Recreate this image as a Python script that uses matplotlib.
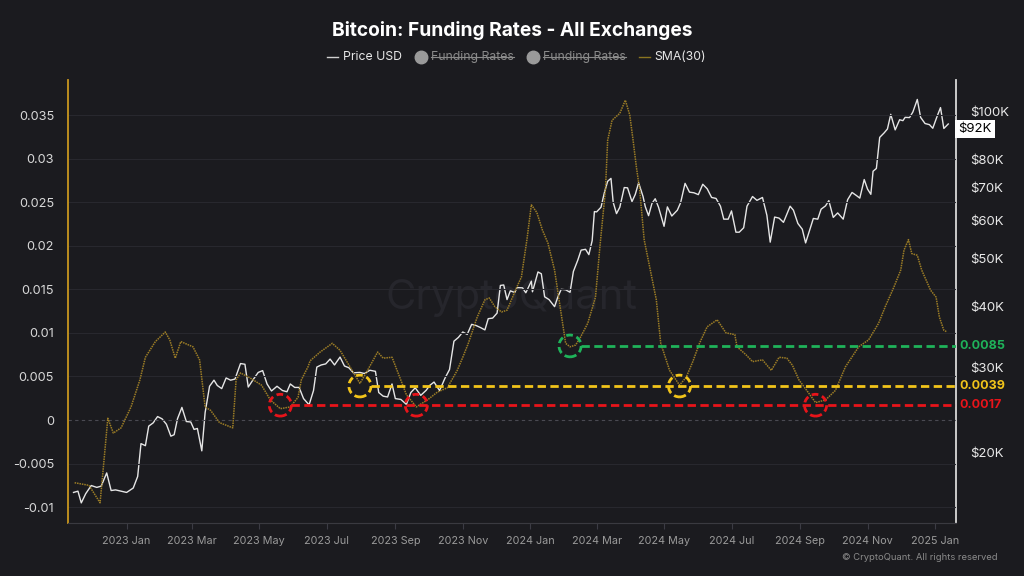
import matplotlib
matplotlib.use("Agg")
import matplotlib.pyplot as plt
import matplotlib.dates as mdates
from matplotlib.lines import Line2D
from matplotlib.patches import Ellipse
from matplotlib.ticker import FixedLocator, NullLocator, FuncFormatter
import pandas as pd

BG = "#1b1b1f"
GOLD = "#c8961e"
SMA_COLOR = "#9c7d26"
LEVEL_COLORS = {"green": "#1fb35a", "yellow": "#f2c41a", "red": "#e8141a"}

PRICE_DATES = [
    "2022-11-14", "2022-11-18", "2022-11-21", "2022-11-25", "2022-11-30", "2022-12-05", "2022-12-09",
    "2022-12-14", "2022-12-18", "2022-12-22", "2022-12-27", "2023-01-01", "2023-01-07", "2023-01-11",
    "2023-01-14", "2023-01-18", "2023-01-21", "2023-01-25", "2023-01-29", "2023-02-02", "2023-02-06",
    "2023-02-10", "2023-02-13", "2023-02-16", "2023-02-20", "2023-02-24", "2023-02-28", "2023-03-03",
    "2023-03-06", "2023-03-10", "2023-03-13", "2023-03-17", "2023-03-21", "2023-03-24", "2023-03-28",
    "2023-04-01", "2023-04-05", "2023-04-09", "2023-04-14", "2023-04-18", "2023-04-21", "2023-04-26",
    "2023-04-30", "2023-05-04", "2023-05-08", "2023-05-12", "2023-05-17", "2023-05-22", "2023-05-26",
    "2023-05-29", "2023-06-02", "2023-06-06", "2023-06-10", "2023-06-15", "2023-06-19", "2023-06-22",
    "2023-06-26", "2023-06-30", "2023-07-04", "2023-07-08", "2023-07-13", "2023-07-17", "2023-07-21",
    "2023-07-25", "2023-07-31", "2023-08-04", "2023-08-09", "2023-08-14", "2023-08-17", "2023-08-21",
    "2023-08-25", "2023-08-29", "2023-09-01", "2023-09-06", "2023-09-11", "2023-09-15", "2023-09-19",
    "2023-09-24", "2023-09-29", "2023-10-02", "2023-10-06", "2023-10-11", "2023-10-16", "2023-10-20",
    "2023-10-24", "2023-10-28", "2023-11-01", "2023-11-05", "2023-11-09", "2023-11-13", "2023-11-17",
    "2023-11-21", "2023-11-24", "2023-11-28", "2023-12-02", "2023-12-05", "2023-12-08", "2023-12-11",
    "2023-12-14", "2023-12-18", "2023-12-20", "2023-12-25", "2023-12-28", "2024-01-02", "2024-01-03",
    "2024-01-08", "2024-01-11", "2024-01-14", "2024-01-18", "2024-01-23", "2024-01-26", "2024-01-29",
    "2024-02-02", "2024-02-06", "2024-02-09", "2024-02-13", "2024-02-16", "2024-02-20", "2024-02-23",
    "2024-02-26", "2024-02-28", "2024-03-01", "2024-03-05", "2024-03-08", "2024-03-11", "2024-03-14",
    "2024-03-16", "2024-03-19", "2024-03-22", "2024-03-26", "2024-03-29", "2024-04-02", "2024-04-05",
    "2024-04-08", "2024-04-12", "2024-04-14", "2024-04-17", "2024-04-20", "2024-04-23", "2024-04-26",
    "2024-05-01", "2024-05-04", "2024-05-08", "2024-05-13", "2024-05-16", "2024-05-20", "2024-05-24",
    "2024-05-28", "2024-06-01", "2024-06-05", "2024-06-09", "2024-06-13", "2024-06-17", "2024-06-21",
    "2024-06-24", "2024-06-28", "2024-07-01", "2024-07-05", "2024-07-08", "2024-07-12", "2024-07-15",
    "2024-07-20", "2024-07-24", "2024-07-29", "2024-08-02", "2024-08-05", "2024-08-09", "2024-08-13",
    "2024-08-17", "2024-08-23", "2024-08-26", "2024-08-30", "2024-09-03", "2024-09-06", "2024-09-10",
    "2024-09-13", "2024-09-17", "2024-09-20", "2024-09-24", "2024-09-27", "2024-10-01", "2024-10-05",
    "2024-10-10", "2024-10-14", "2024-10-18", "2024-10-22", "2024-10-25", "2024-10-29", "2024-11-01",
    "2024-11-04", "2024-11-06", "2024-11-09", "2024-11-12", "2024-11-16", "2024-11-19", "2024-11-22",
    "2024-11-26", "2024-11-30", "2024-12-03", "2024-12-05", "2024-12-09", "2024-12-12", "2024-12-16",
    "2024-12-19", "2024-12-23", "2024-12-27", "2024-12-30", "2025-01-03", "2025-01-06", "2025-01-09",
    "2025-01-13",
]
PRICE_USD = [
    16600, 16700, 15800, 16500, 17150, 17000, 17100,
    18200, 16750, 16800, 16700, 16600, 16950, 17900,
    20900, 20700, 22700, 23050, 23750, 23500, 22900,
    21650, 21800, 23500, 24800, 23200, 23150, 22350,
    22450, 20200, 24200, 27400, 28200, 27500, 27100,
    28500, 28200, 28350, 30500, 30400, 27300, 28400,
    29250, 29500, 27700, 26800, 27400, 26850, 26700,
    27700, 27250, 27250, 25850, 25100, 26850, 30000,
    30300, 30450, 31150, 30300, 31450, 30150, 29900,
    29200, 29250, 29100, 29550, 29400, 26600, 26150,
    26050, 27700, 25850, 25750, 25150, 26600, 27200,
    26250, 26900, 27500, 27950, 26850, 28500, 29650,
    33900, 34500, 35400, 35000, 36700, 36500, 36150,
    35750, 37700, 37800, 38700, 44100, 44200, 41250,
    43000, 42650, 43650, 43600, 42600, 45000, 42800,
    47000, 46600, 41800, 41250, 39900, 41800, 43300,
    43200, 42700, 47100, 49700, 52100, 52300, 51000,
    54500, 62500, 62400, 63800, 68300, 72100, 73100,
    65300, 61900, 63800, 70000, 69900, 65500, 67800,
    71600, 67100, 64000, 61300, 64900, 66400, 63800,
    58300, 63900, 61200, 62900, 65200, 71400, 68500,
    68300, 67700, 71100, 69600, 66800, 66500, 64100,
    60300, 60300, 62700, 56700, 56700, 57900, 64100,
    67100, 65900, 66800, 61400, 54100, 60900, 60600,
    59400, 64100, 62900, 59100, 57500, 53900, 57600,
    60500, 60300, 63200, 64200, 65800, 60800, 62100,
    60300, 66100, 68400, 67400, 66600, 72700, 69500,
    67800, 75600, 76600, 88700, 90600, 92300, 98900,
    91900, 96400, 96000, 97500, 97400, 100000, 106100,
    97500, 94700, 94200, 92600, 98100, 102100, 92500,
    94500,
]

SMA_DATES = [
    "2022-11-15", "2022-11-28", "2022-12-08", "2022-12-11", "2022-12-15", "2022-12-20", "2022-12-27",
    "2023-01-05", "2023-01-13", "2023-01-18", "2023-01-27", "2023-02-05", "2023-02-09", "2023-02-14",
    "2023-02-19", "2023-03-02", "2023-03-08", "2023-03-13", "2023-03-18", "2023-03-26", "2023-04-07",
    "2023-04-10", "2023-04-14", "2023-04-23", "2023-05-03", "2023-05-11", "2023-05-20", "2023-05-29",
    "2023-06-05", "2023-06-08", "2023-06-14", "2023-06-16", "2023-06-25", "2023-07-06", "2023-07-13",
    "2023-07-22", "2023-07-31", "2023-08-06", "2023-08-16", "2023-08-21", "2023-08-29", "2023-09-05",
    "2023-09-11", "2023-09-20", "2023-09-30", "2023-10-09", "2023-10-18", "2023-10-27", "2023-11-01",
    "2023-11-06", "2023-11-14", "2023-11-21", "2023-11-25", "2023-11-30", "2023-12-06", "2023-12-11",
    "2023-12-20", "2023-12-24", "2023-12-29", "2024-01-02", "2024-01-07", "2024-01-12", "2024-01-17",
    "2024-01-23", "2024-01-28", "2024-02-02", "2024-02-06", "2024-02-11", "2024-02-15", "2024-02-22",
    "2024-02-29", "2024-03-04", "2024-03-09", "2024-03-11", "2024-03-15", "2024-03-22", "2024-03-27",
    "2024-03-31", "2024-04-03", "2024-04-06", "2024-04-09", "2024-04-13", "2024-04-24", "2024-04-28",
    "2024-05-06", "2024-05-15", "2024-05-21", "2024-05-27", "2024-06-02", "2024-06-09", "2024-06-18",
    "2024-06-26", "2024-07-04", "2024-07-06", "2024-07-14", "2024-07-20", "2024-07-29", "2024-08-06",
    "2024-08-13", "2024-08-20", "2024-08-25", "2024-08-31", "2024-09-07", "2024-09-15", "2024-09-24",
    "2024-10-03", "2024-10-12", "2024-10-24", "2024-11-02", "2024-11-11", "2024-11-17", "2024-11-25",
    "2024-12-01", "2024-12-04", "2024-12-08", "2024-12-11", "2024-12-16", "2024-12-20", "2024-12-28",
    "2025-01-02", "2025-01-05", "2025-01-09", "2025-01-12",
]
SMA_VALUES = [
    -0.0072, -0.0075, -0.0095, -0.0054, 0.0002, -0.0015, -0.0009,
    0.0015, 0.0046, 0.0072, 0.0090, 0.0101, 0.0092, 0.0071,
    0.0090, 0.0084, 0.0069, 0.0015, 0.0011, -0.0003, -0.0009,
    0.0046, 0.0054, 0.0048, 0.0040, 0.0023, 0.0013, 0.0015,
    0.0026, 0.0046, 0.0061, 0.0068, 0.0078, 0.0088, 0.0080,
    0.0061, 0.0042, 0.0055, 0.0078, 0.0071, 0.0072, 0.0049,
    0.0029, 0.0015, 0.0023, 0.0032, 0.0037, 0.0057, 0.0072,
    0.0088, 0.0118, 0.0138, 0.0140, 0.0130, 0.0124, 0.0126,
    0.0153, 0.0164, 0.0207, 0.0247, 0.0238, 0.0218, 0.0203,
    0.0172, 0.0130, 0.0088, 0.0084, 0.0086, 0.0094, 0.0111,
    0.0141, 0.0199, 0.0264, 0.0321, 0.0344, 0.0352, 0.0367,
    0.0350, 0.0321, 0.0290, 0.0264, 0.0207, 0.0138, 0.0088,
    0.0057, 0.0040, 0.0049, 0.0067, 0.0088, 0.0107, 0.0115,
    0.0100, 0.0098, 0.0084, 0.0075, 0.0067, 0.0069, 0.0057,
    0.0072, 0.0071, 0.0063, 0.0046, 0.0034, 0.0020, 0.0023,
    0.0034, 0.0061, 0.0084, 0.0092, 0.0111, 0.0130, 0.0153,
    0.0172, 0.0195, 0.0207, 0.0191, 0.0189, 0.0172, 0.0149,
    0.0141, 0.0118, 0.0103, 0.0101,
]

LEVELS = [0.0085, 0.0039, 0.0017]
LEVEL_NAMES = ["green", "yellow", "red"]
LEVEL_LABELS = ["0.0085", "0.0039", "0.0017"]
# circled touches of each support level
LEVEL_TOUCHES = {
    "green": ["2024-02-06"],
    "yellow": ["2023-07-31", "2024-05-15"],
    "red": ["2023-05-20", "2023-09-20", "2024-09-15"],
}

FUNDING_TICKS = [-0.01, -0.005, 0, 0.005, 0.01, 0.015, 0.02, 0.025, 0.03, 0.035]
PRICE_TICKS = [20000, 30000, 40000, 50000, 60000, 70000, 80000, 100000]
LAST_PRICE_LABEL = "$92K"
LAST_PRICE = 92300

X_START = pd.Timestamp("2022-11-09")
X_END = pd.Timestamp("2025-01-20")


def add_legend(fig):
    y = 1 - 57 / 576
    renderer = fig.canvas.get_renderer()
    inv = fig.transFigure.inverted()
    # (kind, label, text colour, struck through)
    items = [
        ("line", "Price USD", "#e8e8e8", "#d0d0d0", False),
        ("dot", "Funding Rates", "#8a8a8a", "#9a9a9a", True),
        ("dot", "Funding Rates", "#8a8a8a", "#9a9a9a", True),
        ("line", "SMA(30)", "#e8e8e8", "#8a7520", False),
    ]
    x = 327.0
    for kind, label, tcolor, mcolor, struck in items:
        if kind == "line":
            fig.add_artist(Line2D([x / 1024, (x + 11) / 1024], [y, y], color=mcolor, lw=1))
            x += 16
        else:
            fig.add_artist(Line2D([(x + 6) / 1024], [y], marker="o", markersize=9,
                                  color=mcolor, lw=0))
            x += 16
        t = fig.text(x / 1024, y, label, color=tcolor, fontsize=8.8, va="center")
        bb = t.get_window_extent(renderer)
        if struck:
            (x0, y0), (x1, y1) = inv.transform([(bb.x0, bb.y0), (bb.x1, bb.y1)])
            ym = (y0 + y1) / 2
            fig.add_artist(Line2D([x0, x1], [ym, ym], color="#8a8a8a", lw=0.8))
        x = bb.x1 + 13


def main():
    plt.rcParams["font.family"] = ["Inter", "DejaVu Sans"]
    plt.rcParams["axes.unicode_minus"] = False

    price_dates = pd.to_datetime(PRICE_DATES)
    sma_dates = pd.to_datetime(SMA_DATES)

    fig = plt.figure(figsize=(10.24, 5.76), dpi=100, facecolor=BG)
    ax = fig.add_axes([68 / 1024, 1 - 523 / 576, 888 / 1024, 443 / 576])
    ax2 = ax.twinx()
    ax.set_zorder(ax2.get_zorder() + 1)
    ax.patch.set_visible(False)
    ax2.set_facecolor(BG)

    # price (right, log)
    ax2.plot(price_dates, PRICE_USD, color="#e6e6e6", lw=1.0)
    ax2.set_yscale("log")
    ax2.set_ylim(14370, 116300)
    ax2.yaxis.set_major_locator(FixedLocator(PRICE_TICKS))
    ax2.yaxis.set_minor_locator(NullLocator())
    ax2.yaxis.set_major_formatter(FuncFormatter(lambda v, p: f"${v / 1000:.0f}K"))
    ax2.tick_params(axis="y", colors="#e8e8e8", labelsize=9.5, length=0, pad=10)
    ax2.text(0.5, 0.508, "CryptoQuant", transform=ax2.transAxes, ha="center", va="center",
             fontsize=30, color="#26262c", zorder=0)
    ax2.text(1.003, LAST_PRICE, LAST_PRICE_LABEL, transform=ax2.get_yaxis_transform(),
             ha="left", va="center", fontsize=9.5, color="black", zorder=10, clip_on=False,
             bbox=dict(facecolor="white", edgecolor="none", boxstyle="square,pad=0.25"))

    # funding rate SMA (left)
    ax.set_ylim(-0.01182, 0.03902)
    ax.set_xlim(X_START, X_END)
    for tick in FUNDING_TICKS:
        if tick == 0:
            ax.axhline(0, color="#4a4a52", lw=0.8, ls=(0, (3, 3)), zorder=0)
        else:
            ax.axhline(tick, color="#28282e", lw=0.8, zorder=0)
    ax.plot(sma_dates, SMA_VALUES, color=SMA_COLOR, lw=1.1, ls=(0, (1, 0.6)), zorder=2)

    day_w = 20
    circle_h = 0.0025
    for level, name, label in zip(LEVELS, LEVEL_NAMES, LEVEL_LABELS):
        color = LEVEL_COLORS[name]
        touches = pd.to_datetime(LEVEL_TOUCHES[name])
        start = mdates.date2num(touches[0]) + day_w / 2
        ax.hlines(level, start, mdates.date2num(X_END), color=color, lw=2,
                  linestyles=(0, (3, 1.6)), zorder=3)
        for t in touches:
            ax.add_patch(Ellipse((mdates.date2num(t), level), day_w, circle_h, fill=False,
                                 edgecolor=color, lw=2, ls=(0, (2.4, 1.4)), zorder=4))
        ax.text(1.004, level, label, transform=ax.get_yaxis_transform(), color=color,
                fontsize=9, fontweight="bold", ha="left", va="center", clip_on=False)

    ax.yaxis.set_major_locator(FixedLocator(FUNDING_TICKS))
    ax.yaxis.set_major_formatter(FuncFormatter(lambda v, p: f"{v:g}"))
    ax.tick_params(axis="y", colors="#d8d8d8", labelsize=9.2, length=0, pad=10)

    ax.xaxis.set_major_locator(mdates.MonthLocator(bymonth=[1, 3, 5, 7, 9, 11]))
    ax.xaxis.set_major_formatter(mdates.DateFormatter("%Y %b"))
    ax.tick_params(axis="x", colors="#3c3c44", labelcolor="#9a9a9a", labelsize=7.8,
                   length=4, pad=5)

    for a in (ax, ax2):
        a.spines["top"].set_visible(False)
        a.spines["bottom"].set_color("#3a3a40")
        a.spines["left"].set_visible(False)
        a.spines["right"].set_visible(False)
    ax.spines["left"].set_visible(True)
    ax.spines["left"].set_color(GOLD)
    ax.spines["left"].set_linewidth(1.3)
    ax2.spines["right"].set_visible(True)
    ax2.spines["right"].set_color("#d8d8d8")
    ax2.spines["right"].set_linewidth(1.3)

    fig.text(0.5, 1 - 30 / 576, "Bitcoin: Funding Rates - All Exchanges", color="white",
             fontsize=13.8, fontweight="bold", ha="center", va="center")
    fig.text(998 / 1024, 1 - 557 / 576, "© CryptoQuant. All rights reserved", color="#8a8a8a",
             fontsize=6.8, ha="right", va="center")
    add_legend(fig)

    fig.savefig("out.png", dpi=100, facecolor=BG)
    plt.close(fig)


if __name__ == "__main__":
    main()
